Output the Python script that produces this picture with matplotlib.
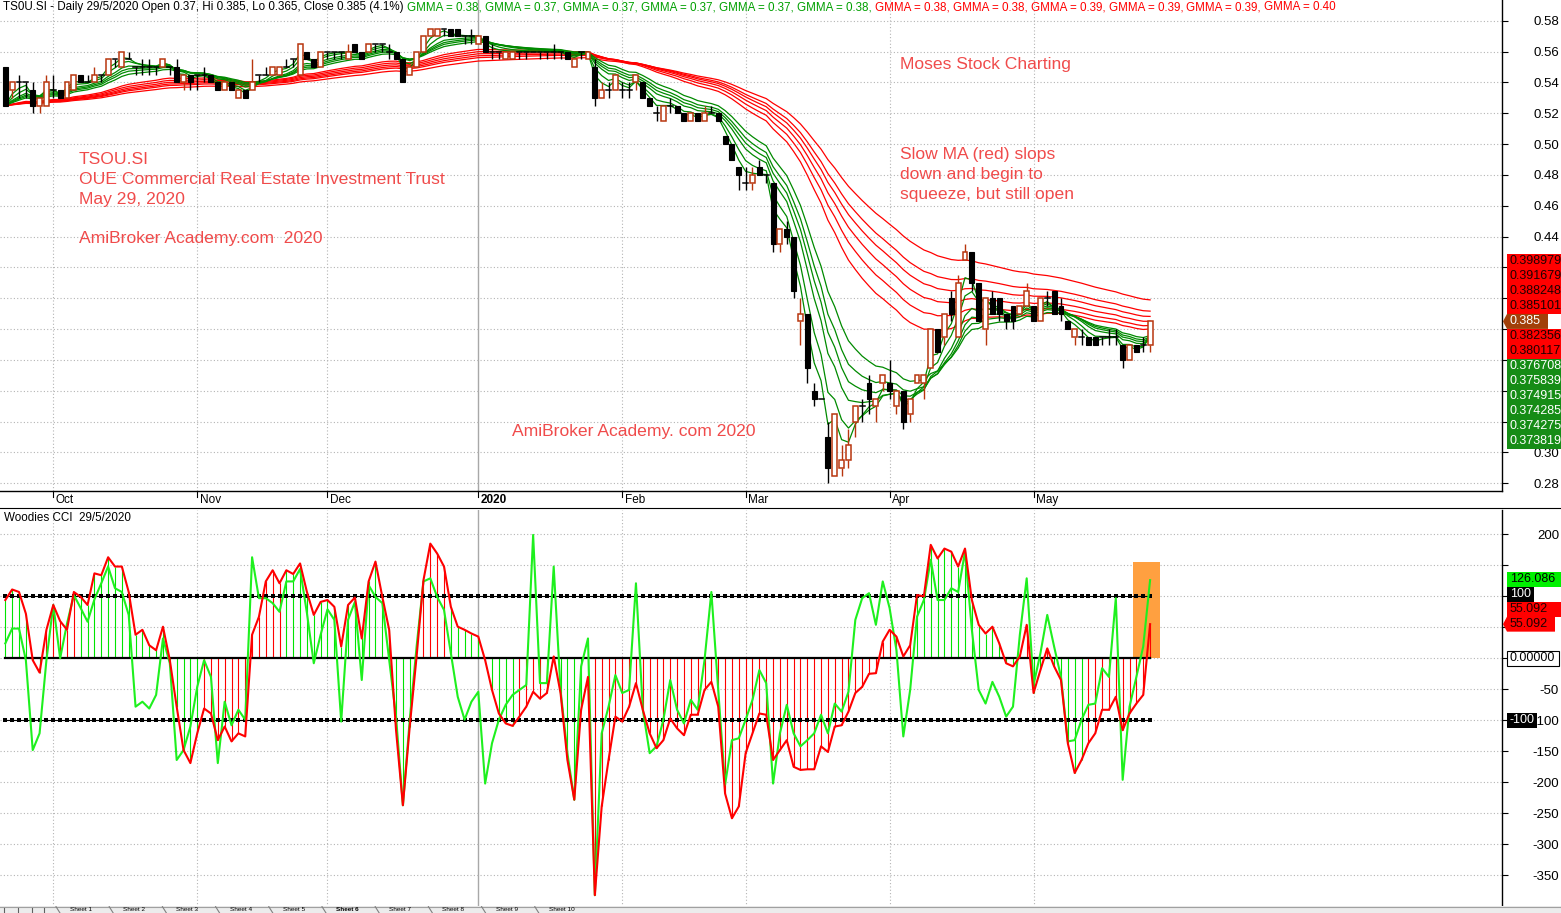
import numpy as np
import pandas as pd
import matplotlib
matplotlib.use("Agg")
import matplotlib.pyplot as plt
from matplotlib.patches import Rectangle, Polygon
from matplotlib.collections import LineCollection
import matplotlib.transforms as mtransforms

W, H, DPI = 1561, 913, 100

# ---------------- data ----------------
ticker = "TS0U.SI"
last_date = "29/5/2020"

opens = [
    0.550, 0.535, 0.540, 0.540, 0.535, 0.525, 0.525, 0.535, 0.535, 0.530,
    0.535, 0.545, 0.540, 0.540, 0.545, 0.545, 0.555, 0.550, 0.555, 0.550,
    0.550, 0.550, 0.550, 0.550, 0.550, 0.550, 0.540, 0.545, 0.545, 0.545,
    0.545, 0.540, 0.535, 0.540, 0.530, 0.535, 0.535, 0.545, 0.545, 0.545,
    0.545, 0.550, 0.555, 0.545, 0.560, 0.555, 0.550, 0.560, 0.560, 0.560,
    0.555, 0.565, 0.560, 0.560, 0.565, 0.565, 0.560, 0.560, 0.555, 0.545,
    0.550, 0.560, 0.570, 0.570, 0.575, 0.575, 0.575, 0.570, 0.570, 0.565,
    0.570, 0.560, 0.560, 0.555, 0.555, 0.560, 0.560, 0.560, 0.560, 0.560,
    0.560, 0.560, 0.560, 0.550, 0.560, 0.555, 0.550, 0.530, 0.535, 0.535,
    0.535, 0.535, 0.540, 0.540, 0.530, 0.520, 0.515, 0.525, 0.525, 0.520,
    0.515, 0.520, 0.515, 0.520, 0.520, 0.505, 0.500, 0.485, 0.475, 0.475,
    0.485, 0.480, 0.475, 0.435, 0.445, 0.440, 0.385, 0.390, 0.340, 0.335,
    0.310, 0.285, 0.290, 0.295, 0.320, 0.330, 0.345, 0.330, 0.345, 0.345,
    0.330, 0.340, 0.325, 0.345, 0.345, 0.355, 0.380, 0.375, 0.400, 0.375,
    0.425, 0.430, 0.410, 0.380, 0.400, 0.400, 0.390, 0.395, 0.390, 0.395,
    0.395, 0.385, 0.400, 0.405, 0.395, 0.385, 0.375, 0.375, 0.375, 0.375,
    0.375, 0.375, 0.375, 0.370, 0.360, 0.370, 0.370, 0.370,
]
highs = [
    0.550, 0.540, 0.545, 0.540, 0.540, 0.530, 0.545, 0.545, 0.535, 0.540,
    0.545, 0.545, 0.545, 0.550, 0.545, 0.555, 0.555, 0.560, 0.560, 0.550,
    0.555, 0.555, 0.550, 0.555, 0.550, 0.555, 0.545, 0.545, 0.545, 0.550,
    0.545, 0.540, 0.540, 0.540, 0.535, 0.535, 0.555, 0.545, 0.550, 0.550,
    0.550, 0.555, 0.555, 0.565, 0.560, 0.555, 0.560, 0.560, 0.560, 0.560,
    0.565, 0.565, 0.560, 0.565, 0.565, 0.565, 0.565, 0.560, 0.555, 0.550,
    0.560, 0.570, 0.575, 0.575, 0.575, 0.575, 0.575, 0.570, 0.575, 0.570,
    0.570, 0.565, 0.560, 0.560, 0.560, 0.560, 0.560, 0.560, 0.560, 0.560,
    0.565, 0.560, 0.560, 0.555, 0.560, 0.560, 0.555, 0.540, 0.540, 0.545,
    0.540, 0.540, 0.545, 0.540, 0.530, 0.525, 0.525, 0.530, 0.525, 0.520,
    0.520, 0.520, 0.525, 0.525, 0.520, 0.505, 0.500, 0.485, 0.485, 0.485,
    0.490, 0.480, 0.475, 0.445, 0.450, 0.440, 0.400, 0.390, 0.345, 0.335,
    0.320, 0.325, 0.305, 0.315, 0.330, 0.335, 0.350, 0.335, 0.350, 0.360,
    0.340, 0.340, 0.335, 0.350, 0.350, 0.380, 0.380, 0.390, 0.405, 0.415,
    0.435, 0.430, 0.410, 0.400, 0.405, 0.400, 0.390, 0.395, 0.395, 0.410,
    0.395, 0.400, 0.405, 0.405, 0.400, 0.385, 0.380, 0.380, 0.375, 0.375,
    0.375, 0.380, 0.380, 0.370, 0.370, 0.370, 0.375, 0.385,
]
lows = [
    0.525, 0.530, 0.530, 0.530, 0.520, 0.520, 0.525, 0.530, 0.530, 0.530,
    0.535, 0.540, 0.540, 0.540, 0.540, 0.545, 0.550, 0.550, 0.555, 0.545,
    0.545, 0.545, 0.545, 0.550, 0.545, 0.540, 0.535, 0.535, 0.535, 0.540,
    0.540, 0.535, 0.535, 0.535, 0.530, 0.530, 0.535, 0.540, 0.545, 0.545,
    0.545, 0.550, 0.550, 0.545, 0.555, 0.550, 0.550, 0.555, 0.555, 0.555,
    0.555, 0.560, 0.555, 0.560, 0.560, 0.560, 0.555, 0.555, 0.540, 0.545,
    0.550, 0.560, 0.570, 0.570, 0.570, 0.570, 0.570, 0.565, 0.565, 0.565,
    0.560, 0.555, 0.555, 0.555, 0.555, 0.555, 0.555, 0.560, 0.555, 0.555,
    0.555, 0.555, 0.555, 0.550, 0.555, 0.555, 0.525, 0.530, 0.530, 0.535,
    0.530, 0.530, 0.535, 0.530, 0.525, 0.515, 0.515, 0.520, 0.520, 0.515,
    0.515, 0.515, 0.515, 0.520, 0.515, 0.500, 0.490, 0.470, 0.470, 0.470,
    0.480, 0.475, 0.430, 0.430, 0.435, 0.400, 0.370, 0.345, 0.330, 0.335,
    0.280, 0.285, 0.285, 0.290, 0.310, 0.320, 0.325, 0.320, 0.340, 0.335,
    0.325, 0.315, 0.320, 0.345, 0.335, 0.355, 0.365, 0.370, 0.385, 0.375,
    0.425, 0.405, 0.385, 0.370, 0.390, 0.385, 0.380, 0.380, 0.390, 0.395,
    0.385, 0.385, 0.395, 0.390, 0.385, 0.380, 0.370, 0.370, 0.370, 0.370,
    0.370, 0.370, 0.370, 0.355, 0.360, 0.365, 0.365, 0.365,
]
closes = [
    0.525, 0.540, 0.540, 0.540, 0.525, 0.530, 0.540, 0.535, 0.530, 0.540,
    0.545, 0.540, 0.540, 0.545, 0.545, 0.555, 0.555, 0.560, 0.555, 0.550,
    0.550, 0.550, 0.550, 0.555, 0.550, 0.540, 0.545, 0.540, 0.545, 0.545,
    0.540, 0.535, 0.540, 0.535, 0.535, 0.530, 0.540, 0.545, 0.545, 0.550,
    0.550, 0.550, 0.555, 0.565, 0.555, 0.550, 0.560, 0.560, 0.560, 0.560,
    0.560, 0.560, 0.555, 0.565, 0.565, 0.565, 0.560, 0.555, 0.540, 0.550,
    0.560, 0.570, 0.575, 0.575, 0.575, 0.570, 0.570, 0.570, 0.570, 0.570,
    0.560, 0.560, 0.560, 0.560, 0.560, 0.560, 0.560, 0.560, 0.560, 0.560,
    0.560, 0.560, 0.555, 0.555, 0.560, 0.560, 0.530, 0.535, 0.535, 0.545,
    0.535, 0.535, 0.545, 0.530, 0.525, 0.520, 0.525, 0.525, 0.520, 0.515,
    0.520, 0.515, 0.520, 0.520, 0.515, 0.500, 0.490, 0.480, 0.475, 0.480,
    0.480, 0.480, 0.435, 0.445, 0.440, 0.405, 0.390, 0.355, 0.335, 0.335,
    0.290, 0.325, 0.295, 0.305, 0.330, 0.330, 0.335, 0.335, 0.350, 0.340,
    0.340, 0.320, 0.335, 0.350, 0.350, 0.380, 0.365, 0.390, 0.390, 0.410,
    0.430, 0.410, 0.385, 0.400, 0.390, 0.390, 0.385, 0.385, 0.395, 0.405,
    0.385, 0.400, 0.400, 0.390, 0.390, 0.380, 0.380, 0.375, 0.370, 0.370,
    0.375, 0.375, 0.375, 0.360, 0.370, 0.365, 0.370, 0.385,
]

# Woodies CCI: CCI(14) and turbo CCI(6)
cci14 = [
    94, 111, 107, 72, -3, -23, 46, 86, 60, 46,
    107, 99, 86, 137, 134, 163, 148, 148, 107, 38,
    46, 21, 13, 51, -3, -78, -148, -169, -121, -81,
    -89, -132, -110, -134, -121, -126, 38, 67, 124, 142,
    121, 142, 136, 153, 107, 70, 91, 94, 83, 19,
    86, 98, 32, 124, 156, 99, 46, -116, -237, -110,
    3, 126, 185, 169, 148, 83, 51, 46, 40, 35,
    -3, -51, -89, -105, -109, -94, -78, -54, -65, -56,
    3, -56, -164, -228, -83, -30, -382, -239, -164, -94,
    -102, -78, -40, -83, -121, -145, -132, -97, -113, -124,
    -91, -91, -51, -38, -78, -218, -258, -239, -153, -121,
    -89, -91, -164, -148, -132, -175, -180, -179, -179, -142,
    -151, -110, -108, -86, -56, -46, -25, -24, 27, 46,
    35, 3, 21, 102, 100, 183, 161, 177, 172, 148,
    177, 94, 54, 40, 51, 24, -8, -13, 3, 54,
    -56, -19, 16, -13, -35, -137, -185, -164, -137, -121,
    -83, -83, -62, -116, -89, -73, -59, 55.092,
]
tcci6 = [
    24, 48, 48, -3, -148, -121, -3, 86, 0, 56,
    102, 81, 59, 95, 121, 148, 113, 107, 70, -78,
    -70, -81, -59, 32, -8, -164, -148, -110, -46, -3,
    -30, -169, -70, -108, -83, -99, 163, 97, 97, 89,
    75, 124, 124, 144, 73, -8, 38, 79, 62, -102,
    62, 91, -35, 118, 99, 89, -3, -94, -237, -99,
    19, 124, 129, 99, 78, 8, -62, -99, -70, -54,
    -202, -137, -99, -75, -59, -51, -43, 199, -40, -40,
    148, -51, -153, -228, -13, 32, -382, -121, -78, -27,
    -56, -51, 121, -83, -153, -142, -99, -35, -83, -105,
    -67, -83, -3, 107, -51, -204, -132, -129, -99, -67,
    -19, -40, -202, -121, -75, -121, -142, -132, -121, -91,
    -121, -73, -86, -54, 62, 97, 105, 54, 124, 81,
    13, -126, -51, 67, 94, 159, 94, 94, 113, 107,
    172, 46, -51, -73, -38, -62, -94, -78, 38, 129,
    -43, 8, 70, 19, -30, -134, -132, -99, -75, -73,
    -16, -30, 97, -196, -78, -30, 19, 126.086,
]

month_labels = ["Oct", "Nov", "Dec", "2020", "Feb", "Mar", "Apr", "May"]
month_first_bar = [7, 28, 47, 69, 90, 108, 129, 150]

gmma_short = [3, 5, 8, 10, 12, 15]
gmma_long = [30, 35, 40, 45, 50, 60]

price_ticks = [0.58, 0.56, 0.54, 0.52, 0.50, 0.48, 0.46, 0.44, 0.42, 0.40,
               0.38, 0.36, 0.34, 0.32, 0.30, 0.28]
cci_ticks = [200, 150, 100, 50, 0, -50, -100, -150, -200, -250, -300, -350]

notes = [
    (900, 64, "Moses Stock Charting"),
    (79, 159, "TSOU.SI"),
    (79, 179, "OUE Commercial Real Estate Investment Trust"),
    (79, 199, "May 29, 2020"),
    (79, 239, "AmiBroker Academy.com  2020"),
    (900, 155, "Slow MA (red) slops"),
    (900, 175, "down and begin to"),
    (900, 195, "squeeze, but still open"),
    (512, 431, "AmiBroker Academy. com 2020"),
]

sheet_tabs = ["Sheet 1", "Sheet 2", "Sheet 3", "Sheet 4", "Sheet 5", "Sheet 6",
              "Sheet 7", "Sheet 8", "Sheet 9", "Sheet 10"]
active_sheet = "Sheet 6"

# ---------------- styles / layout ----------------
UP = "#B8360E"
GREEN_MA = "#008A00"
RED_MA = "#FF0000"
NOTE = "#F04B4B"
GRID = "#B4B4B4"
FONT = "Liberation Sans"
plt.rcParams["font.family"] = [FONT, "DejaVu Sans"]

BAR0_PX, BAR_PX = 5.3, 6.855        # first bar centre and bar spacing (px)
AX_RIGHT = 1502                      # x of value axis
N = len(closes)
idx = np.arange(N)

closes_s = pd.Series(closes, dtype=float)
ema_short = [closes_s.ewm(span=p, adjust=False).mean().to_numpy() for p in gmma_short]
ema_long = [closes_s.ewm(span=p, adjust=False).mean().to_numpy() for p in gmma_long]

fig = plt.figure(figsize=(W / DPI, H / DPI), dpi=DPI)
fig.patch.set_facecolor("white")


def rect_px(x0, y0, x1, y1):
    return [x0 / W, 1 - y1 / H, (x1 - x0) / W, (y1 - y0) / H]


def fx(x):
    return x / W


def fy(y):
    return 1 - y / H


ax_p = fig.add_axes(rect_px(0, 0, AX_RIGHT, 491))
ax_c = fig.add_axes(rect_px(0, 510, AX_RIGHT, 907))

xlim = (-BAR0_PX / BAR_PX, (AX_RIGHT - BAR0_PX) / BAR_PX)
ax_p.set_xlim(*xlim)
ax_c.set_xlim(*xlim)
ax_p.set_ylim(0.2750, 0.5935)
ax_c.set_ylim(-401.1, 239.2)

ax_p.set_yticks(price_ticks)
ax_p.set_yticklabels([f"{t:.2f}" for t in price_ticks])
ax_c.set_yticks(cci_ticks)
ax_c.set_yticklabels([str(t) for t in cci_ticks])

for ax in (ax_p, ax_c):
    ax.set_facecolor("white")
    for s in ("top", "left"):
        ax.spines[s].set_visible(False)
    ax.spines["right"].set_color("black")
    ax.spines["right"].set_linewidth(1.0)
    ax.spines["bottom"].set_color("black")
    ax.spines["bottom"].set_linewidth(1.0)
    ax.set_xticks([])
    ax.yaxis.tick_right()
    ax.tick_params(axis="y", direction="out", length=4, width=0.8, color="black",
                   labelsize=9.5, pad=37, labelcolor="black")
    for lab in ax.get_yticklabels():
        lab.set_horizontalalignment("right")
    # month separators
    for b, lab in zip(month_first_bar, month_labels):
        if lab == "2020":
            ax.axvline(b, color="#A8A8A8", lw=1.0, zorder=0)
        else:
            ax.axvline(b, color=GRID, lw=0.8, ls=(0, (1, 2)), zorder=0)

for t in price_ticks:
    ax_p.axhline(t, color=GRID, lw=0.8, ls=(0, (1, 2)), zorder=0)
for t in cci_ticks:
    ax_c.axhline(t, color=GRID, lw=0.8, ls=(0, (1, 2)), zorder=0)

# ---------------- price pane ----------------
for e in ema_long:
    ax_p.plot(idx, e, color=RED_MA, lw=0.9, zorder=2)
for e in ema_short:
    ax_p.plot(idx, e, color=GREEN_MA, lw=0.9, zorder=2)

bw = 0.72
for i in range(N):
    o, h, l, c = opens[i], highs[i], lows[i], closes[i]
    if c > o:
        ax_p.plot([i, i], [l, o], color=UP, lw=1.0, zorder=3, solid_capstyle="butt")
        ax_p.plot([i, i], [c, h], color=UP, lw=1.0, zorder=3, solid_capstyle="butt")
        ax_p.add_patch(Rectangle((i - bw / 2, o), bw, c - o, facecolor="white",
                                 edgecolor=UP, lw=1.1, zorder=4))
    elif c < o:
        ax_p.plot([i, i], [l, h], color="black", lw=1.0, zorder=3, solid_capstyle="butt")
        ax_p.add_patch(Rectangle((i - bw / 2, c), bw, o - c, facecolor="black",
                                 edgecolor="black", lw=0.8, zorder=4))
    else:
        ax_p.plot([i, i], [l, h], color="black", lw=1.0, zorder=3, solid_capstyle="butt")
        ax_p.plot([i - bw / 2, i + bw / 2], [o, o], color="black", lw=1.1, zorder=4)

# month labels under the price pane
tr_p = mtransforms.blended_transform_factory(ax_p.transData, ax_p.transAxes)
for b, lab in zip(month_first_bar, month_labels):
    ax_p.plot([b, b], [0, -6 / 491], transform=tr_p, color="black", lw=0.8, clip_on=False)
    ax_p.text(b + 0.35, -9 / 491, lab, transform=tr_p, ha="left", va="center",
              fontsize=8.5, fontweight="bold" if lab == "2020" else "normal",
              clip_on=False)

# ---------------- CCI pane ----------------
RUN_LEN = 6
stem_colors = []
run, prev_sign = RUN_LEN, np.sign(cci14[0])
for i, v in enumerate(cci14):
    s = 1 if v >= 0 else -1
    if i > 0:
        run = run + 1 if s == prev_sign else 1
    prev_sign = s
    trend = s if run >= RUN_LEN else -s
    stem_colors.append("#00E400" if trend > 0 else "#FF0000")

ax_c.add_patch(Rectangle((N - 1 - 2.5, 0), 3.9, 156, facecolor="#FFA040",
                         edgecolor="none", zorder=1))
segs = [[(i, 0), (i, v)] for i, v in enumerate(cci14)]
ax_c.add_collection(LineCollection(segs, colors=stem_colors, linewidths=0.8, zorder=2))
ax_c.plot([0, N - 1], [0, 0], color="black", lw=1.6, zorder=3)
for lvl in (100, -100):
    ax_c.plot(idx, [lvl] * N, color="black", lw=0.8, marker="s", ms=2.2,
              markeredgewidth=0, zorder=3)
ax_c.plot(idx, tcci6, color="#1EF01E", lw=1.5, zorder=4)
ax_c.plot(idx, cci14, color="#FF0000", lw=1.5, zorder=5)

# ---------------- value tags on the right ----------------
TAG_H = 15.0
tag_boxes = []


def val_px(ax, v):
    return H - ax.transData.transform((0, v))[1]


def fmt6(v):
    return f"{v:.6f}".rstrip("0").rstrip(".")


def place_tags(ax, tags, anchor):
    ys = [val_px(ax, t["v"]) for t in tags]
    for k in range(anchor - 1, -1, -1):
        ys[k] = min(ys[k], ys[k + 1] - TAG_H)
    for k in range(anchor + 1, len(tags)):
        ys[k] = max(ys[k], ys[k - 1] + TAG_H)
    for t, y in zip(tags, ys):
        x0 = 1507
        x1 = t.get("x1", 1561)
        tag_boxes.append((x0, x1, y - TAG_H / 2, y + TAG_H / 2))
        if t.get("arrow"):
            pts = [(AX_RIGHT + 1, y), (x0, y - TAG_H / 2), (x1, y - TAG_H / 2),
                   (x1, y + TAG_H / 2), (x0, y + TAG_H / 2)]
            fig.add_artist(Polygon([(fx(px), fy(py)) for px, py in pts],
                                   closed=True, transform=fig.transFigure,
                                   facecolor=t["fc"], edgecolor=t.get("ec", "none"),
                                   lw=0.8, zorder=10))
        else:
            fig.add_artist(Rectangle((fx(x0), fy(y + TAG_H / 2)), (x1 - x0) / W, TAG_H / H,
                                     transform=fig.transFigure, facecolor=t["fc"],
                                     edgecolor=t.get("ec", "none"), lw=0.8, zorder=10))
        fig.text(fx(x0 + 3), fy(y), t["text"], color=t["tc"], fontsize=9,
                 ha="left", va="center", zorder=11)


price_tags = [{"v": e[-1], "text": fmt6(e[-1]), "fc": "#FF0000", "tc": "#200000"}
              for e in ema_long]
price_tags += [{"v": e[-1], "text": fmt6(e[-1]), "fc": "#168C16", "tc": "white"}
               for e in ema_short]
close_tag = {"v": closes[-1] + 1e-9, "text": fmt6(closes[-1]), "fc": "#A2400A",
             "tc": "white", "arrow": True, "x1": 1548}
price_tags.append(close_tag)
price_tags.sort(key=lambda t: -t["v"])
place_tags(ax_p, price_tags, price_tags.index(close_tag))

cci_tags = [
    {"v": tcci6[-1], "text": f"{tcci6[-1]:.3f}", "fc": "#00F000", "tc": "black"},
    {"v": 100, "text": "100", "fc": "black", "tc": "white", "x1": 1534},
    {"v": cci14[-1] + 1e-6, "text": f"{cci14[-1]:.3f}", "fc": "#FF0000", "tc": "#200000"},
    {"v": cci14[-1], "text": f"{cci14[-1]:.3f}", "fc": "#FF0000", "tc": "#200000",
     "arrow": True, "x1": 1555},
    {"v": 0, "text": "0.00000", "fc": "white", "tc": "black", "ec": "black", "x1": 1559},
    {"v": -100, "text": "-100", "fc": "black", "tc": "white", "x1": 1537},
]
place_tags(ax_c, cci_tags, 3)

# ---------------- header lines ----------------
fig.canvas.draw()
renderer = fig.canvas.get_renderer()

# axis numbers mostly underneath a value tag are covered by it
for ax in (ax_p, ax_c):
    for lab in ax.get_yticklabels():
        bb = lab.get_window_extent(renderer)
        lx0, lx1 = bb.x0, bb.x1
        ly0, ly1 = H - bb.y1, H - bb.y0
        for (bx0, bx1, by0, by1) in tag_boxes:
            hov = min(lx1, bx1) - max(lx0, bx0)
            if hov > 0.4 * (lx1 - lx0) and ly0 < by1 - 1 and ly1 > by0 + 1:
                lab.set_visible(False)
                break


def chain_text(x_px, y_px, parts, size):
    x = x_px
    for txt, col in parts:
        t = fig.text(fx(x), fy(y_px), txt, color=col, fontsize=size, ha="left",
                     va="center", zorder=12)
        x += t.get_window_extent(renderer).width


pct = (closes[-1] / closes[-2] - 1) * 100
head = [(f"{ticker} - Daily {last_date} Open {opens[-1]:g}, Hi {highs[-1]:g}, "
         f"Lo {lows[-1]:g}, Close {closes[-1]:g} ({pct:.1f}%) ", "black")]
for e in ema_short:
    head.append((f"GMMA = {e[-1]:.2f}, ", "#00A000"))
for k, e in enumerate(ema_long):
    sep = ", " if k < len(ema_long) - 1 else ""
    head.append((f"GMMA = {e[-1]:.2f}{sep}", "#FF0000"))
chain_text(3, 7, head, 8.38)
fig.text(fx(4), fy(518), f"Woodies CCI  {last_date}", fontsize=8.4, ha="left",
         va="center", color="black")

# ---------------- notes ----------------
for x, y, s in notes:
    fig.text(fx(x), fy(y), s, color=NOTE, fontsize=12.6, ha="left", va="center",
             zorder=12)

# separator line between panes
fig.add_artist(plt.Line2D([0, 1], [fy(508), fy(508)], color="black", lw=0.8,
                          transform=fig.transFigure))

# sheet tab strip along the bottom edge
tab_ax = fig.add_axes(rect_px(0, 906, W, H))
tab_ax.set_xlim(0, W)
tab_ax.set_ylim(7, 0)
tab_ax.axis("off")
tab_ax.add_patch(Rectangle((0, 0), W, 7, facecolor="#ECECEC", edgecolor="none"))
tab_ax.plot([0, W], [0.5, 0.5], color="#A0A0A0", lw=0.8)
for k, name in enumerate(sheet_tabs):
    x0 = 56 + k * 53.2
    tab_ax.plot([x0, x0 + 4], [0.6, 7], color="#808080", lw=0.8)
    tab_ax.text(x0 + 14, 3.9, name, fontsize=4.6, va="center", ha="left",
                fontweight="bold" if name == active_sheet else "normal",
                color="black")
for x0 in (4, 18, 32, 44):
    tab_ax.plot([x0, x0], [1.5, 7], color="#606060", lw=0.8)

fig.savefig("out.png", dpi=DPI, facecolor="white")
